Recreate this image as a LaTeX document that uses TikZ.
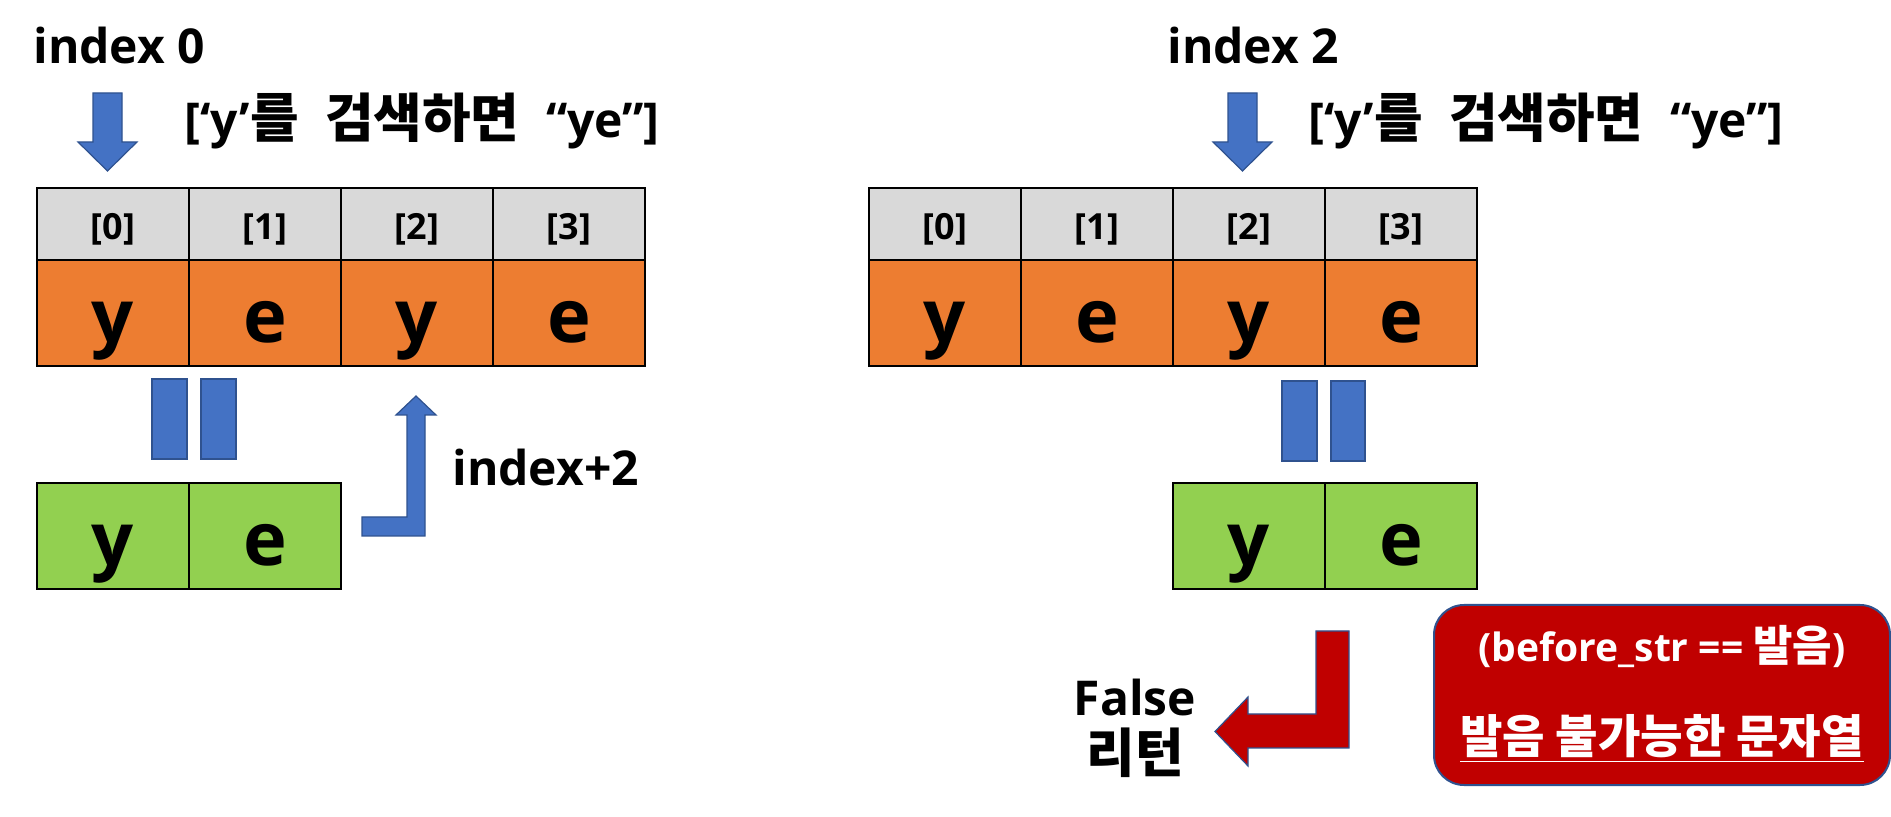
\documentclass[tikz,border=0pt]{standalone}
\usepackage{fontspec}
\setmainfont{Open Sans}
\newfontfamily\kr{Noto Sans CJK KR}[Scale=1.1]
\definecolor{hgray}{HTML}{D9D9D9}
\definecolor{orng}{HTML}{ED7D31}
\definecolor{lgreen}{HTML}{92D050}
\definecolor{ablue}{HTML}{4472C4}
\definecolor{bblue}{HTML}{2F528F}
\definecolor{dred}{HTML}{C00000}
\begin{document}
\begin{tikzpicture}[x=0.5pt,y=-0.5pt,
  cell/.style={draw=black,line width=1pt,inner sep=0pt,minimum width=76pt},
  hdr/.style={cell,fill=hgray,minimum height=36pt,text height=16pt,text depth=0pt,font=\bfseries\fontsize{18}{20}\selectfont},
  dat/.style={cell,fill=orng,minimum height=53pt,text height=30pt,text depth=0pt,font=\bfseries\fontsize{37}{40}\selectfont},
  grn/.style={dat,fill=lgreen},
  lbl/.style={inner sep=0pt,font=\bfseries\fontsize{24}{28}\selectfont},
  wlbl/.style={inner sep=0pt,text=white,font=\bfseries\fontsize{19.5}{23}\selectfont},
  wlbk/.style={inner sep=0pt,text=white,font=\bfseries\fontsize{21}{24}\selectfont},
  blueshape/.style={fill=ablue,draw=bblue,line width=0.6pt},
  redshape/.style={fill=dred,draw=bblue,line width=0.6pt},
  redbox/.style={fill=dred,draw=bblue,line width=1pt,rounded corners=15pt,inner sep=0pt}]
\useasboundingbox (0,0) rectangle (1891,817);

% ---------- left part ----------
\node[lbl,anchor=base west] (i0) at (33,64) {index 0};
\node[lbl,anchor=base west] (q0) at (184,138) {[‘y’{\kr 를}\hspace{0.55em}{\kr 검색하면}\hspace{0.55em}“ye”]};
\filldraw[blueshape] (93,93) -- (122,93) -- (122,142) -- (137,142) -- (107.5,171) -- (78,142) -- (93,142) -- cycle;

\node[hdr] (h0) at (113,224) {[0]};
\node[hdr] (h1) at (265,224) {[1]};
\node[hdr] (h2) at (417,224) {[2]};
\node[hdr] (h3) at (569,224) {[3]};
\node[dat] (d0) at (113,313) {y};
\node[dat] (d1) at (265,313) {e};
\node[dat] (d2) at (417,313) {y};
\node[dat] (d3) at (569,313) {e};

\filldraw[blueshape] (152,379) rectangle (187,459);
\filldraw[blueshape] (201,379) rectangle (236,459);

\node[grn] (g0) at (113,536) {y};
\node[grn] (g1) at (265,536) {e};

\filldraw[blueshape] (362,517) -- (407,517) -- (407,415) -- (396,415) -- (416,396) -- (436,415) -- (425,415) -- (425,536) -- (362,536) -- cycle;
\node[lbl,anchor=base west] (ip) at (452,486) {index+2};

% ---------- right part ----------
\node[lbl,anchor=base west] (i2) at (1167,64) {index 2};
\node[lbl,anchor=base west] (q2) at (1308,138) {[‘y’{\kr 를}\hspace{0.55em}{\kr 검색하면}\hspace{0.55em}“ye”]};
\filldraw[blueshape] (1228,93) -- (1257,93) -- (1257,142) -- (1272,142) -- (1242.5,171) -- (1213,142) -- (1228,142) -- cycle;

\node[hdr] (rh0) at (945,224) {[0]};
\node[hdr] (rh1) at (1097,224) {[1]};
\node[hdr] (rh2) at (1249,224) {[2]};
\node[hdr] (rh3) at (1401,224) {[3]};
\node[dat] (rd0) at (945,313) {y};
\node[dat] (rd1) at (1097,313) {e};
\node[dat] (rd2) at (1249,313) {y};
\node[dat] (rd3) at (1401,313) {e};

\filldraw[blueshape] (1282,381) rectangle (1317,461);
\filldraw[blueshape] (1331,381) rectangle (1365,461);

\node[grn] (rg0) at (1249,536) {y};
\node[grn] (rg1) at (1401,536) {e};

\filldraw[redshape] (1316,631) -- (1349,631) -- (1349,748) -- (1248,748) -- (1248,766) -- (1215,731.5) -- (1248,697) -- (1248,714) -- (1316,714) -- cycle;
\node[lbl,anchor=base] (fl) at (1135,716) {False};
\node[lbl,anchor=base] (rt) at (1135,772) {\kr 리턴};

\node[redbox,minimum width=228pt,minimum height=90pt] (rb) at (1662,695) {};
\node[wlbl,anchor=base] (rb1) at (1662,662) {(before\_str == {\kr 발음})};
\node[wlbk,anchor=base] (rb2) at (1662,754) {\underline{\kr 발음 불가능한 문자열}};
\end{tikzpicture}
\end{document}
